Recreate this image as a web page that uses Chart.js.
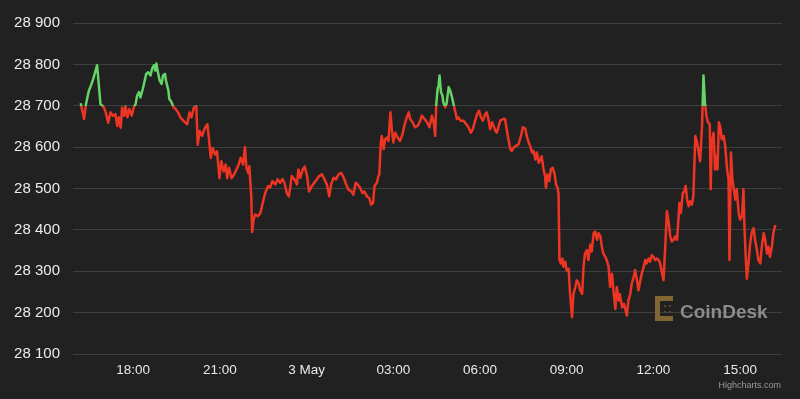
<!DOCTYPE html>
<html>
<head>
<meta charset="utf-8">
<script src="https://cdn.jsdelivr.net/npm/chart.js@4/dist/chart.umd.min.js"></script>
<style>
  html, body { margin: 0; padding: 0; background: #212121; }
  #wrap { width: 800px; height: 399px; }
</style>
</head>
<body>
<div id="wrap"><canvas id="btcChart" width="800" height="399"></canvas></div>
<script>
// minutes since 00:00 on 2 May
const minutes = [
  971, 978, 982, 988, 991, 996, 1000, 1005, 1009, 1012, 1016, 1019, 1023, 1028, 1033, 1038, 1043, 1047, 1050, 1054,
  1057, 1061, 1064, 1068, 1072, 1077, 1081, 1085, 1088, 1092, 1095, 1100, 1104, 1107, 1111, 1116, 1119, 1123, 1126, 1128,
  1132, 1135, 1139, 1142, 1146, 1148, 1153, 1155, 1158, 1161, 1164, 1168, 1173, 1178, 1185, 1192, 1197, 1201, 1206, 1211,
  1214, 1218, 1223, 1229, 1234, 1237, 1241, 1245, 1250, 1254, 1259, 1263, 1268, 1272, 1275, 1279, 1284, 1289, 1294, 1299,
  1303, 1308, 1312, 1315, 1319, 1321, 1325, 1327,
  1330, 1333, 1339, 1344, 1349, 1354, 1360, 1364, 1369, 1375, 1380, 1385, 1390, 1394, 1399, 1403, 1406, 1409, 1415, 1420,
  1423, 1427, 1432, 1436, 1441, 1445, 1451, 1456, 1461, 1466, 1472, 1477, 1482, 1487, 1491, 1496, 1501, 1506, 1512, 1517,
  1522, 1527, 1533, 1537, 1542, 1546, 1551, 1556, 1560, 1565, 1570, 1574, 1578, 1581, 1586, 1589, 1591, 1594, 1596, 1600,
  1603, 1607, 1610, 1614, 1617, 1620, 1624, 1629, 1634, 1639, 1643, 1648, 1652, 1655, 1660, 1665, 1671, 1676, 1679, 1685,
  1690, 1695,
  1700, 1704, 1707, 1709, 1712, 1714, 1716, 1719, 1722, 1724, 1728, 1731, 1735, 1738, 1742, 1745, 1749, 1752, 1755, 1760,
  1766, 1771, 1776, 1781, 1785, 1790, 1794, 1798, 1802, 1806, 1811, 1814, 1818, 1821, 1825, 1828, 1832, 1835, 1839, 1842,
  1848, 1852, 1856, 1859, 1863, 1866, 1870, 1875, 1880, 1885, 1889, 1894, 1897, 1901, 1904, 1908, 1911, 1915, 1918, 1922,
  1925, 1928, 1932, 1935, 1937, 1940, 1944, 1947, 1951, 1955, 1958, 1961, 1963, 1965, 1968, 1971, 1973, 1977, 1980, 1984,
  1987, 1991, 1994, 1998, 2001, 2005, 2008, 2012, 2015, 2018, 2022, 2025, 2029, 2032, 2036, 2039, 2043, 2046, 2050, 2053,
  2056, 2060, 2063, 2067, 2070, 2074, 2077, 2081, 2084, 2088,
  2090, 2095, 2099, 2105, 2108, 2112, 2115, 2119, 2122, 2126, 2129, 2133, 2136, 2140, 2143, 2146, 2150, 2153, 2157, 2160,
  2164, 2167, 2171, 2174, 2178, 2181, 2185, 2188, 2191, 2195, 2198, 2202, 2205, 2209, 2212, 2214, 2217, 2221, 2224, 2227,
  2230, 2233, 2236, 2240, 2243, 2247, 2250, 2254, 2257, 2261, 2264, 2267, 2270, 2273, 2277, 2279, 2281, 2285, 2288, 2290,
  2293, 2296, 2299, 2302, 2306, 2309, 2313, 2316, 2318, 2321, 2324, 2326, 2330, 2333, 2337, 2340, 2344, 2347, 2349, 2352,
  2354, 2358, 2361, 2364, 2368, 2371, 2375, 2378, 2382, 2385, 2389, 2392, 2396, 2399, 2402, 2406, 2409, 2413
];

const prices = [
  28706, 28668, 28704, 28737, 28745, 28761, 28777, 28798, 28745, 28704, 28700, 28696, 28684, 28659, 28684, 28676, 28680, 28651, 28672, 28647,
  28696, 28676, 28698, 28672, 28692, 28676, 28696, 28704, 28724, 28733, 28720, 28741, 28761, 28777, 28781, 28773, 28789, 28798, 28785, 28802,
  28777, 28761, 28753, 28773, 28777, 28761, 28737, 28716, 28712, 28704, 28696, 28692, 28684, 28672, 28663, 28655, 28684, 28672, 28696, 28698,
  28606, 28639, 28627, 28647, 28655, 28623, 28574, 28598, 28582, 28590, 28525, 28566, 28541, 28558, 28525, 28550, 28525, 28533, 28545, 28558,
  28574, 28558, 28600, 28550, 28537, 28554, 28485, 28395,
  28425, 28437, 28433, 28441, 28465, 28489, 28506, 28502, 28518, 28510, 28522, 28514, 28523, 28514, 28489, 28481, 28502, 28530, 28522, 28510,
  28546, 28526, 28546, 28553, 28530, 28493, 28506, 28514, 28522, 28530, 28534, 28522, 28510, 28481, 28510, 28526, 28522, 28534, 28538, 28526,
  28510, 28497, 28493, 28485, 28514, 28510, 28502, 28489, 28493, 28481, 28477, 28461, 28465, 28506, 28514, 28530, 28534, 28611, 28627, 28595,
  28619, 28623, 28615, 28684, 28643, 28611, 28635, 28623, 28615, 28631, 28652, 28672, 28684, 28668, 28660, 28648, 28652, 28664, 28676, 28668,
  28660, 28648,
  28676, 28660, 28627, 28700, 28741, 28749, 28773, 28733, 28725, 28708, 28696, 28708, 28745, 28737, 28720, 28704, 28684, 28668, 28672, 28664,
  28664, 28656, 28648, 28635, 28643, 28664, 28680, 28688, 28672, 28664, 28680, 28684, 28664, 28643, 28660, 28652, 28639, 28635, 28652, 28664,
  28668, 28668, 28639, 28619, 28595, 28591, 28599, 28603, 28607, 28627, 28648, 28645, 28627, 28611, 28603, 28587, 28591, 28570, 28587, 28562,
  28570, 28578, 28546, 28530, 28502, 28534, 28518, 28546, 28550, 28534, 28509, 28502, 28489, 28327, 28319, 28331, 28311, 28323, 28302, 28306,
  28245, 28189, 28245, 28262, 28278, 28270, 28254, 28245, 28311, 28343, 28351, 28327, 28364, 28348, 28392, 28396, 28376, 28392, 28384, 28359,
  28343, 28335, 28327, 28311, 28262, 28294, 28254, 28209, 28262, 28229,
  28245, 28213, 28221, 28193, 28229, 28245, 28270, 28286, 28303, 28278, 28254, 28278, 28295, 28311, 28327, 28319, 28331, 28323, 28339, 28335,
  28327, 28331, 28327, 28319, 28295, 28278, 28368, 28445, 28425, 28384, 28372, 28376, 28384, 28376, 28425, 28465, 28441, 28489, 28493, 28506,
  28473, 28457, 28469, 28461, 28481, 28627, 28615, 28587, 28566, 28652, 28773, 28708, 28676, 28660, 28656, 28498, 28611, 28635, 28546, 28579,
  28546, 28660, 28648, 28619, 28627, 28603, 28546, 28522, 28327, 28587, 28522, 28506, 28473, 28498, 28441, 28425, 28433, 28498, 28408, 28327,
  28282, 28327, 28368, 28392, 28404, 28376, 28351, 28327, 28319, 28359, 28392, 28376, 28343, 28359, 28335, 28359, 28392, 28412
];

const tickMinutes = [1080, 1260, 1440, 1620, 1800, 1980, 2160, 2340];
const tickLabels = ["18:00", "21:00", "3 May", "03:00", "06:00", "09:00", "12:00", "15:00"];
const threshold = 28700;

const upColor = "#63d465";
const downColor = "#ee3524";

document.addEventListener("DOMContentLoaded", function () {
  const ctx = document.getElementById("btcChart").getContext("2d");

  // green above the threshold, red below (like highcharts zones)
  function lineColor(context) {
    const chart = context.chart;
    const area = chart.chartArea;
    if (!area || !chart.scales.y) return downColor;
    const yPix = chart.scales.y.getPixelForValue(threshold);
    let stop = (yPix - area.top) / (area.bottom - area.top);
    stop = Math.min(Math.max(stop, 0), 1);
    const g = chart.ctx.createLinearGradient(0, area.top, 0, area.bottom);
    g.addColorStop(0, upColor);
    g.addColorStop(stop, upColor);
    g.addColorStop(stop, downColor);
    g.addColorStop(1, downColor);
    return g;
  }

  const extras = {
    id: "extras",
    afterDraw(chart) {
      const c = chart.ctx;
      c.save();
      // coindesk watermark
      c.fillStyle = "#7f6632";
      c.fillRect(655, 296, 18, 5);
      c.fillRect(655, 316, 18, 5);
      c.fillRect(655, 296, 5, 25);
      c.fillStyle = "#5a4a2a";
      c.fillRect(664, 305, 2, 2);
      c.fillRect(669, 305, 2, 2);
      c.fillRect(664, 311, 2, 2);
      c.fillRect(669, 311, 2, 2);
      c.fillStyle = "#8c8c8c";
      c.font = "bold 19px 'Liberation Sans', Arial, sans-serif";
      c.textBaseline = "alphabetic";
      c.textAlign = "left";
      c.fillText("CoinDesk", 680, 318);
      // credits
      c.fillStyle = "#9a9a9a";
      c.font = "9px 'Liberation Sans', Arial, sans-serif";
      c.textAlign = "right";
      c.fillText("Highcharts.com", 781, 388);
      c.restore();
    }
  };

  const points = minutes.map((m, i) => ({ x: m, y: prices[i] }));

  const config = {
    type: "line",
    data: {
      datasets: [
        {
          label: "BTC",
          data: points,
          borderColor: lineColor,
          borderWidth: 2.5,
          pointRadius: 0,
          tension: 0,
          borderJoinStyle: "round",
          fill: false,
        },
      ],
    },
    options: {
      responsive: false,
      animation: false,
      layout: { padding: { top: 23, right: 18, bottom: 0, left: 0 } },
      plugins: {
        legend: { display: false },
        tooltip: { enabled: false },
      },
      scales: {
        x: {
          type: "linear",
          min: 955,
          max: 2427,
          afterFit: (scale) => { scale.height = 45; },
          afterBuildTicks: (scale) => {
            scale.ticks = tickMinutes.map((v) => ({ value: v }));
          },
          grid: { display: false, drawTicks: false },
          border: { display: false },
          ticks: {
            padding: 8,
            color: "#e8e8e8",
            font: { family: "'Liberation Sans', Arial, sans-serif", size: 13.5 },
            maxRotation: 0,
            autoSkip: false,
            callback: (v) => tickLabels[tickMinutes.indexOf(v)],
          },
        },
        y: {
          min: 28100,
          max: 28900,
          afterFit: (scale) => { scale.width = 73; },
          grid: { color: "#3e3e3e", lineWidth: 1, drawTicks: false },
          border: { display: false },
          ticks: {
            stepSize: 100,
            padding: 13,
            color: "#ececec",
            font: { family: "'Liberation Sans', Arial, sans-serif", size: 15 },
            callback: (v) => String(v).replace(/\B(?=(\d{3})+(?!\d))/g, " "),
          },
        },
      },
    },
    plugins: [extras],
  };

  new Chart(ctx, config);
});
</script>
</body>
</html>
